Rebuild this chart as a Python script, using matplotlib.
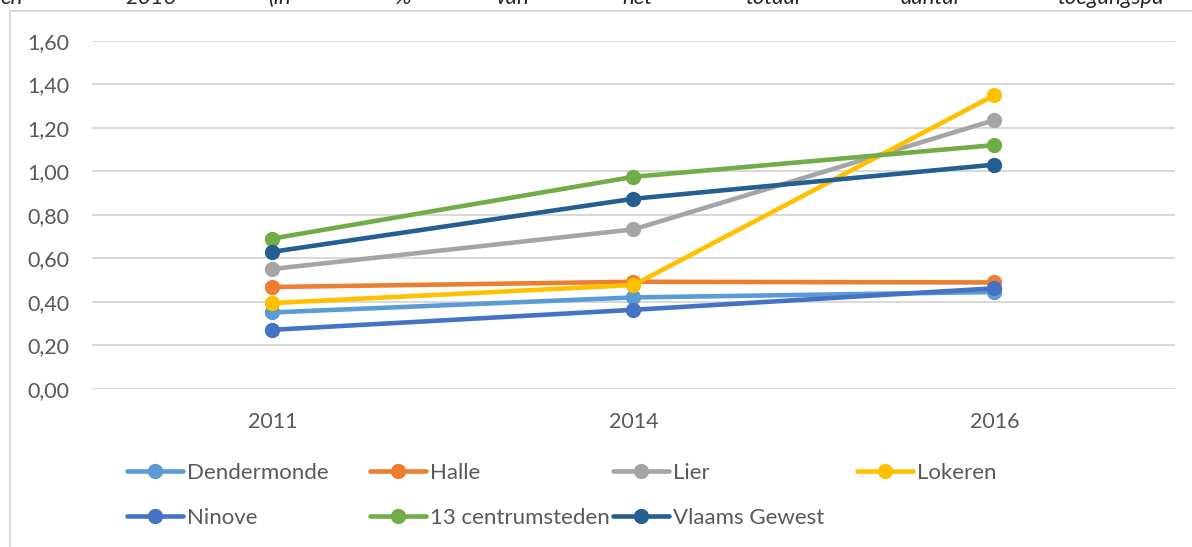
import matplotlib.pyplot as plt
from matplotlib.patches import Rectangle

plt.rcParams["font.family"] = ["Lato", "DejaVu Sans"]

# data
years = ["2011", "2014", "2016"]
dendermonde = [0.351, 0.420, 0.445]
halle = [0.468, 0.492, 0.489]
lier = [0.551, 0.733, 1.236]
lokeren = [0.394, 0.477, 1.351]
ninove = [0.271, 0.363, 0.462]
centrumsteden = [0.691, 0.975, 1.121]
vlaams_gewest = [0.630, 0.874, 1.031]

names = ["Dendermonde", "Halle", "Lier", "Lokeren", "Ninove",
         "13 centrumsteden", "Vlaams Gewest"]
series = [dendermonde, halle, lier, lokeren, ninove, centrumsteden, vlaams_gewest]
colors = ["#5B9BD5", "#ED7D31", "#A5A5A5", "#FFC000", "#4472C4",
          "#70AD47", "#255E91"]
yticks = [0.0, 0.2, 0.4, 0.6, 0.8, 1.0, 1.2, 1.4, 1.6]

# clipped caption words at the top of the page
caption = ["en", "2016", "(in", "%", "van", "het", "totaal", "aantal", "toegangspa"]
caption_x = [0, 125, 268, 395, 495, 622, 745, 900, 1057]

W, H = 1192, 547
fig = plt.figure(figsize=(W / 100, H / 100), dpi=100)

# chart frame
fig.patches.append(Rectangle((10 / W, -0.1), 1.2, 1 - 11 / H + 0.1,
                             transform=fig.transFigure, fill=False,
                             edgecolor="#D9D9D9", linewidth=1.5))

for word, x in zip(caption, caption_x):
    fig.text(x / W, 1 - 3.5 / H, word, ha="left", va="baseline",
             fontsize=16, style="italic", color="#262626")

ax = fig.add_axes([92 / W, (H - 388.7) / H, (1175 - 92) / W, (388.7 - 41) / H])

xs = range(len(years))
lines = []
for vals, name, c in zip(series, names, colors):
    (ln,) = ax.plot(xs, vals, color=c, linewidth=3.3, marker="o",
                    markersize=10, label=name, solid_capstyle="round",
                    clip_on=False)
    lines.append(ln)

ax.set_xlim(-0.5, len(years) - 0.5)
ax.set_ylim(0, 1.6)
ax.set_xticks(list(xs))
ax.set_xticklabels(years)
ax.set_yticks(yticks)
ax.set_yticklabels([f"{v:.2f}".replace(".", ",") for v in yticks])
ax.tick_params(axis="both", length=0, labelsize=15.5, labelcolor="#595959")
ax.tick_params(axis="y", pad=16)
ax.tick_params(axis="x", pad=17)
ax.grid(axis="y", color="#D9D9D9", linewidth=1.5)
ax.set_axisbelow(True)
for s in ax.spines.values():
    s.set_visible(False)

# legend entries placed like the Excel layout
legend_pos = [(127, 473), (370, 473), (613, 473), (857, 473),
              (127, 518), (370, 518), (613, 518)]
for ln, (lx, ly) in zip(lines, legend_pos):
    leg = fig.legend(handles=[ln], loc="center left",
                     bbox_to_anchor=(lx / W, 1 - ly / H), frameon=False,
                     fontsize=16, handlelength=2.5, handletextpad=0.2,
                     borderpad=0, borderaxespad=0)
    for t in leg.get_texts():
        t.set_color("#595959")

fig.savefig("out.png", dpi=100)
